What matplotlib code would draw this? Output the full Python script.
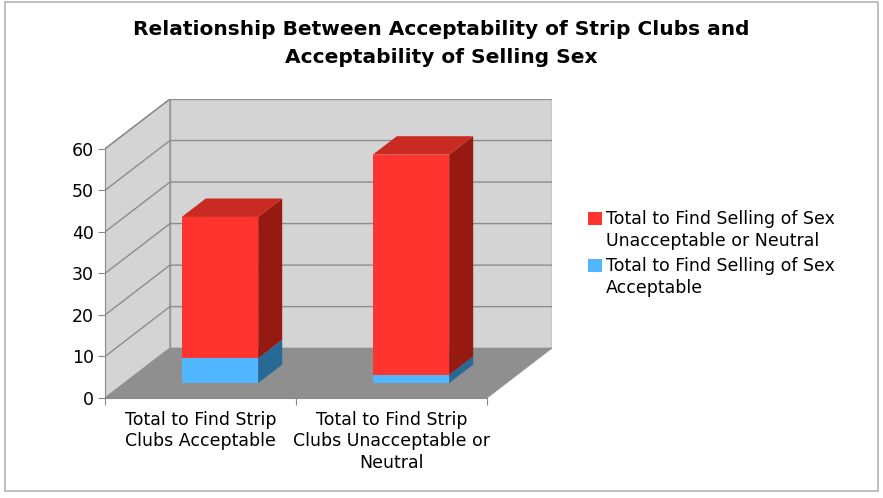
import matplotlib
matplotlib.use("Agg")
import matplotlib.pyplot as plt
from matplotlib.patches import Polygon, Rectangle

# chart data
categories = ["Total to Find Strip\nClubs Acceptable",
              "Total to Find Strip\nClubs Unacceptable or\nNeutral"]
series_names = ["Total to Find Selling of Sex\nUnacceptable or Neutral",
                "Total to Find Selling of Sex\nAcceptable"]
acceptable = [6, 2]          # bottom (blue) segment
unacceptable = [34, 53]      # top (red) segment
yticks = [0, 10, 20, 30, 40, 50, 60]

# colours: front, side, top
red = ("#ff342e", "#961912", "#c92a22")
blue = ("#4fb6ff", "#286a96", "#3a8fcc")

# oblique depth vector (x units, value units)
DX, DY = 0.34, 12.0
YMAX = 60
NCAT = len(categories)
BAR_W = 0.4
D0, D1 = 0.30, 0.67   # bar front / back depth


def proj(x, v, d):
    return (x + d * DX, v + d * DY)


fig = plt.figure(figsize=(8.83, 4.98), dpi=100)
fig.patch.set_facecolor("white")
fig.patches.append(Rectangle((5 / 883, 7 / 498), 873 / 883, 489 / 498,
                             transform=fig.transFigure, fill=False,
                             edgecolor="#b4b4b4", lw=1.2))

ax = fig.add_axes([105 / 883, 100 / 498, (2 + DX) * 191 / 883, 299 / 498])
ax.set_xlim(0, NCAT + DX)
ax.set_ylim(0, YMAX + DY)
ax.patch.set_visible(False)

wall = "#d4d4d4"
floor = "#8f8f8f"
edge = "#999999"

# left wall, back wall, floor
ax.add_patch(Polygon([proj(0, 0, 0), proj(0, 0, 1), proj(0, YMAX, 1), proj(0, YMAX, 0)],
                     closed=True, fc=wall, ec=edge, lw=1, zorder=1))
ax.add_patch(Polygon([proj(0, 0, 1), proj(NCAT, 0, 1), proj(NCAT, YMAX, 1), proj(0, YMAX, 1)],
                     closed=True, fc=wall, ec=edge, lw=1, zorder=1))
for v in yticks[1:]:
    xs, ys = zip(proj(0, v, 0), proj(0, v, 1), proj(NCAT, v, 1))
    ax.plot(xs, ys, color="#8c8c8c", lw=1, zorder=2)
ax.add_patch(Polygon([proj(0, 0, 0), proj(NCAT, 0, 0), proj(NCAT, 0, 1), proj(0, 0, 1)],
                     closed=True, fc=floor, ec=floor, lw=0.5, zorder=3))


def box(xc, lo, hi, cols, top):
    x0, x1 = xc - BAR_W / 2, xc + BAR_W / 2
    side = [proj(x1, lo, D0), proj(x1, lo, D1), proj(x1, hi, D1), proj(x1, hi, D0)]
    ax.add_patch(Polygon(side, closed=True, fc=cols[1], ec="none", zorder=4))
    if top:
        lid = [proj(x0, hi, D0), proj(x1, hi, D0), proj(x1, hi, D1), proj(x0, hi, D1)]
        ax.add_patch(Polygon(lid, closed=True, fc=cols[2], ec="none", zorder=4))
    front = [proj(x0, lo, D0), proj(x1, lo, D0), proj(x1, hi, D0), proj(x0, hi, D0)]
    ax.add_patch(Polygon(front, closed=True, fc=cols[0], ec="none", zorder=5))


for i in range(NCAT):
    xc = i + 0.5
    box(xc, 0, acceptable[i], blue, False)
    box(xc, acceptable[i], acceptable[i] + unacceptable[i], red, True)

# axes lines and ticks
for s in ["top", "right"]:
    ax.spines[s].set_visible(False)
ax.spines["left"].set_bounds(0, YMAX)
ax.spines["bottom"].set_bounds(0, NCAT)
for s in ["left", "bottom"]:
    ax.spines[s].set_color("#8a8a8a")
    ax.spines[s].set_zorder(6)
ax.set_yticks(yticks)
ax.set_yticklabels([str(v) for v in yticks], fontsize=12.5)
ax.tick_params(axis="y", length=5, color="#8a8a8a", pad=3)
ax.set_xticks(range(NCAT + 1))
ax.set_xticklabels([])
ax.tick_params(axis="x", which="major", length=5, color="#8a8a8a")
ax.set_xticks([i + 0.5 for i in range(NCAT)], minor=True)
ax.set_xticklabels(categories, minor=True, fontsize=12.5, linespacing=1.27)
ax.tick_params(axis="x", which="minor", length=0, pad=9)

fig.text(0.5, 0.96, "Relationship Between Acceptability of Strip Clubs and\n"
         "Acceptability of Selling Sex", ha="center", va="top",
         fontsize=14.5, fontweight="bold", linespacing=1.58)

# legend
for k, (name, cols) in enumerate(zip(series_names, [red, blue])):
    ytop = 1 - (212 + k * 47) / 498
    fig.patches.append(Rectangle((588 / 883, ytop - 13 / 498), 14 / 883, 13 / 498,
                                 transform=fig.transFigure, fc=cols[0], ec="none"))
    fig.text(606 / 883, ytop + 2 / 498, name, ha="left", va="top",
             fontsize=12.5, linespacing=1.27)

fig.savefig("out.png", dpi=100)
